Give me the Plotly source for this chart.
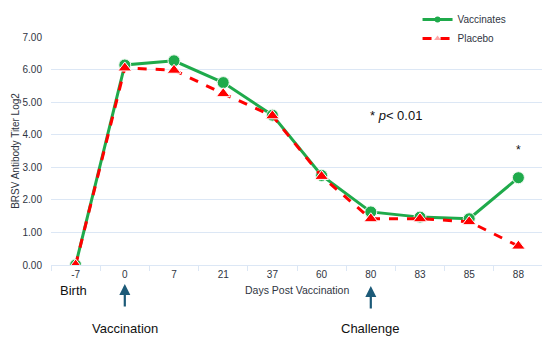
import plotly.graph_objects as go

days = ["-7", "0", "7", "21", "37", "60", "80", "83", "85", "88"]
vaccinates = [0.0, 6.14, 6.27, 5.60, 4.60, 2.75, 1.63, 1.47, 1.42, 2.68]
placebo = [0.0, 6.05, 5.98, 5.26, 4.58, 2.72, 1.42, 1.42, 1.33, 0.58]

GREEN = "#1faa4b"
RED = "#ff0000"
ARROW = "#1c5a78"
TXT = "#2f3542"
GRID = "#dce7f5"
FONT = "Liberation Sans, Arial, sans-serif"

def idx(day):
    return days.index(day)

fig = go.Figure()
fig.add_trace(go.Scatter(
    x=days, y=vaccinates, name="Vaccinates", mode="lines+markers", showlegend=False,
    line=dict(color=GREEN, width=3),
    marker=dict(symbol="circle", size=12, color=GREEN, line=dict(color="#eef8f0", width=1)),
))
fig.add_trace(go.Scatter(
    x=days, y=placebo, name="Placebo", mode="lines+markers", showlegend=False,
    line=dict(color=RED, width=3, dash="dash"),
    marker=dict(symbol="triangle-up", size=12, color=RED, line=dict(color="#ffffff", width=1)),
))
# legend entries with small markers, as in the reference
fig.add_trace(go.Scatter(
    x=[None], y=[None], name="Vaccinates", mode="lines+markers",
    line=dict(color=GREEN, width=3), marker=dict(symbol="circle", size=6, color=GREEN),
))
fig.add_trace(go.Scatter(
    x=[None], y=[None], name="Placebo", mode="lines+markers",
    line=dict(color=RED, width=3, dash="dash"),
    marker=dict(symbol="triangle-up", size=6, color="rgba(255,0,0,0.35)"),
))

fig.update_layout(
    width=542, height=336,
    margin=dict(l=43, r=7, t=29, b=79, autoexpand=False),
    paper_bgcolor="white", plot_bgcolor="white",
    font=dict(family=FONT, size=10, color=TXT),
    legend=dict(x=0.745, y=1.14, xanchor="left", yanchor="top",
                font=dict(size=10, color=TXT), bgcolor="rgba(0,0,0,0)",
                tracegroupgap=0),
    xaxis=dict(type="category", showgrid=False, showline=True, linecolor=GRID, linewidth=1,
               ticks="outside", tickson="boundaries", ticklen=5, tickcolor=GRID,
               tickfont=dict(size=10, color=TXT), range=[-0.5, 9.5]),
    yaxis=dict(range=[0, 7], dtick=1, tickformat=".2f", showgrid=True, gridcolor=GRID,
               gridwidth=1, zeroline=False, tickfont=dict(size=10, color=TXT),
               ticks="outside", ticklen=6, tickcolor="rgba(0,0,0,0)",
               title=dict(text="BRSV Antibody Titer Log2", font=dict(size=10, color=TXT), standoff=1)),
)

def ypix(p):
    return (265 - p) / 228.0

common = dict(showarrow=False, xanchor="center", yanchor="middle")
ann = [
    dict(text="Days Post Vaccination", xref="paper", yref="paper", x=0.5, y=ypix(290),
         font=dict(size=10.5, color=TXT), **common),
    dict(text="Birth", xref="x", yref="paper", x=idx("-7") - 0.04, y=ypix(290),
         font=dict(size=13, color="#111"), **common),
    dict(text="Vaccination", xref="x", yref="paper", x=idx("0"), y=ypix(328),
         font=dict(size=13, color="#111"), **common),
    dict(text="Challenge", xref="x", yref="paper", x=idx("80"), y=ypix(328),
         font=dict(size=13, color="#111"), **common),
    dict(text="* <i>p</i>< 0.01", xref="paper", yref="paper", x=(396 - 51) / 492, y=ypix(116),
         font=dict(size=13, color="#111"), **common),
    dict(text="*", xref="x", yref="paper", x=idx("88"), y=ypix(150),
         font=dict(size=12, color="#111"), **common),
]
for cat, top in [("0", 284), ("80", 286)]:
    ann.append(dict(text="", xref="x", yref="paper", x=idx(cat), y=ypix(top),
                    ax=0, ay=24, axref="pixel", ayref="pixel",
                    showarrow=True, arrowhead=2, arrowsize=1, arrowwidth=2.2,
                    arrowcolor=ARROW))
fig.update_layout(annotations=ann)

fig.write_html("out.html")
